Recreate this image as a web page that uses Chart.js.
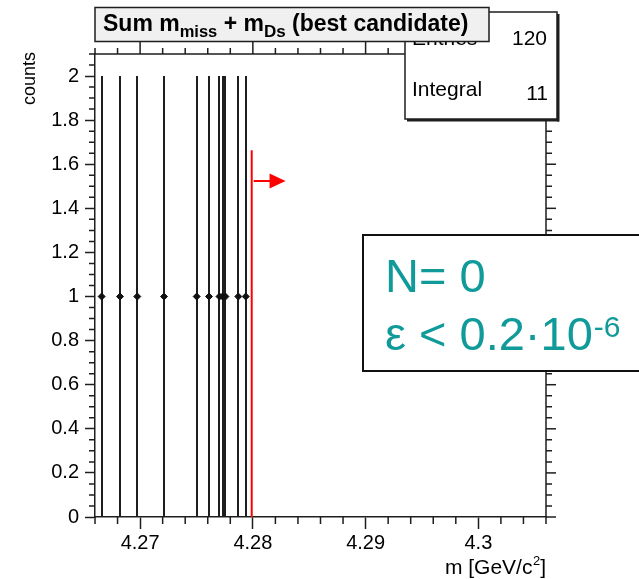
<!DOCTYPE html>
<html><head><meta charset="utf-8">
<script src="https://cdn.jsdelivr.net/npm/chart.js@4.4.1/dist/chart.umd.min.js"></script>
<style>html,body{margin:0;padding:0;background:#fff;}canvas{display:block;}</style>
</head><body>
<canvas id="c" width="639" height="579"></canvas>
<script>
// ---- data ----
const massValues  = [4.26659, 4.26822, 4.26975, 4.27212, 4.27502, 4.27611, 4.27704, 4.27731, 4.27757, 4.27871, 4.27937];
const countValues = [1, 1, 1, 1, 1, 1, 1, 1, 1, 1, 1];
const countErrors = [1, 1, 1, 1, 1, 1, 1, 1, 1, 1, 1];
const xTickValues = [4.27, 4.28, 4.29, 4.30];
const xTickLabels = ['4.27', '4.28', '4.29', '4.3'];
const yTickValues = [0, 0.2, 0.4, 0.6, 0.8, 1.0, 1.2, 1.4, 1.6, 1.8, 2.0];
const yTickLabels = ['0', '0.2', '0.4', '0.6', '0.8', '1', '1.2', '1.4', '1.6', '1.8', '2'];
const xRange = [4.266, 4.306];
const yRange = [0, 2.1];
const cutPosition = [4.2799];
const cutLineTop = [1.664];
const arrowLevel = [1.524];
const arrowTip = [4.2829];
const statsNames = ['Entries', 'Integral'];
const statsValues = ['120', '11'];
const xTitle = 'm [GeV/c';
const yTitle = 'counts';
const resultLines = ['N= 0', 'ε < 0.2·10', '-6'];

const FONT = "'Liberation Sans', Arial, Helvetica, sans-serif";
Chart.defaults.font.family = FONT;
const INK = '#1e1e1e';
const TEAL = '#109a9a';

const decor = {
  id: 'decor',
  beforeDatasetsDraw(chart) {
    const {ctx, scales: {x, y}} = chart;
    ctx.save();
    ctx.strokeStyle = INK; ctx.lineWidth = 2;
    massValues.forEach((m, i) => {
      const px = Math.round(x.getPixelForValue(m));
      ctx.beginPath();
      ctx.moveTo(px, y.getPixelForValue(countValues[i] - countErrors[i]));
      ctx.lineTo(px, y.getPixelForValue(countValues[i] + countErrors[i]));
      ctx.stroke();
    });
    ctx.restore();
  },
  afterDraw(chart) {
    const {ctx, chartArea: a, scales: {x, y}} = chart;
    ctx.save();
    // frame top / right
    ctx.strokeStyle = INK; ctx.lineWidth = 1.5;
    ctx.beginPath();
    ctx.moveTo(a.left, a.top); ctx.lineTo(a.right, a.top); ctx.lineTo(a.right, a.bottom);
    ctx.stroke();
    // ticks
    ctx.lineWidth = 1.5;
    const isMajorX = v => xTickValues.some(t => Math.abs(t - v) < 1e-7);
    const isMajorY = v => yTickValues.some(t => Math.abs(t - v) < 1e-7);
    for (let k = 0; ; k++) {
      const v = xRange[0] + k * 0.002;
      if (v > xRange[1] + 1e-9) break;
      const px = x.getPixelForValue(v);
      const maj = isMajorX(v);
      ctx.beginPath();
      ctx.moveTo(px, a.top); ctx.lineTo(px, a.top - (maj ? 12 : 6));
      if (!maj) { ctx.moveTo(px, a.bottom); ctx.lineTo(px, a.bottom + 7); }
      ctx.stroke();
    }
    for (let k = 0; ; k++) {
      const v = yRange[0] + k * 0.05;
      if (v > yRange[1] + 1e-9) break;
      const py = y.getPixelForValue(v);
      const maj = isMajorY(v);
      ctx.beginPath();
      ctx.moveTo(a.right, py); ctx.lineTo(a.right + (maj ? 10 : 6), py);
      if (!maj) { ctx.moveTo(a.left, py); ctx.lineTo(a.left - 6, py); }
      ctx.stroke();
    }
    // arrow
    const ay = y.getPixelForValue(arrowLevel[0]);
    const ax0 = x.getPixelForValue(cutPosition[0]) + 2;
    const ax1 = x.getPixelForValue(arrowTip[0]);
    ctx.strokeStyle = '#ff0000'; ctx.fillStyle = '#ff0000'; ctx.lineWidth = 2;
    ctx.beginPath(); ctx.moveTo(ax0, ay); ctx.lineTo(ax1 - 14, ay); ctx.stroke();
    ctx.beginPath(); ctx.moveTo(ax1 - 16, ay - 7.5); ctx.lineTo(ax1, ay); ctx.lineTo(ax1 - 16, ay + 7.5); ctx.closePath(); ctx.fill();

    // axis titles
    ctx.fillStyle = '#000';
    ctx.font = '21px ' + FONT;
    ctx.textBaseline = 'alphabetic';
    ctx.textAlign = 'right';
    ctx.fillText(']', a.right, 574);
    const bw = ctx.measureText(']').width;
    ctx.font = '13px ' + FONT;
    ctx.fillText('2', a.right - bw, 565);
    const sw = ctx.measureText('2').width;
    ctx.font = '21px ' + FONT;
    ctx.fillText(xTitle, a.right - bw - sw - 0.5, 574);

    ctx.save();
    ctx.font = '18px ' + FONT;
    ctx.translate(30, 52); ctx.rotate(-Math.PI / 2);
    ctx.textAlign = 'right'; ctx.textBaseline = 'middle';
    ctx.fillText(yTitle, 0, 0);
    ctx.restore();

    // stats box
    ctx.fillStyle = '#fff';
    ctx.fillRect(405, 12, 152, 107);
    ctx.fillStyle = INK;
    ctx.fillRect(557, 14, 2.5, 107.5);
    ctx.fillRect(407, 119, 152, 2.5);
    ctx.strokeStyle = INK; ctx.lineWidth = 1.5;
    ctx.strokeRect(405, 12, 152, 107);
    ctx.fillStyle = '#000';
    ctx.font = '21px ' + FONT;
    ctx.textAlign = 'left';
    ctx.fillText(statsNames[0], 412, 45);
    ctx.fillText(statsNames[1], 412, 96);
    ctx.textAlign = 'right';
    ctx.fillText(statsValues[0], 547, 45);
    ctx.fillText(statsValues[1], 548, 100);

    // title box
    ctx.fillStyle = '#f0f0f0';
    ctx.fillRect(95, 7.5, 394, 34);
    ctx.strokeStyle = INK; ctx.lineWidth = 1.5;
    ctx.strokeRect(95, 7.5, 394, 34);
    ctx.fillStyle = '#000';
    ctx.textAlign = 'left';
    const parts = [
      ['Sum m', 23, 31], ['miss', 16.5, 37], [' + m', 23, 31], ['Ds', 17, 37], [' (best candidate)', 23, 31]
    ];
    let tx = 103;
    parts.forEach(([t, s, b]) => {
      ctx.font = 'bold ' + s + 'px ' + FONT;
      ctx.fillText(t, tx, b);
      tx += ctx.measureText(t).width;
    });

    // result box
    ctx.fillStyle = '#fff';
    ctx.fillRect(363, 235, 290, 136);
    ctx.strokeStyle = '#111'; ctx.lineWidth = 2;
    ctx.strokeRect(363, 235, 290, 136);
    ctx.fillStyle = TEAL;
    ctx.font = '47px ' + FONT;
    ctx.fillText(resultLines[0], 385, 292);
    ctx.fillText(resultLines[1], 385, 350);
    const ew = ctx.measureText(resultLines[1]).width;
    ctx.font = '30px ' + FONT;
    ctx.fillText(resultLines[2], 385 + ew + 1, 337);
    ctx.restore();
  }
};

new Chart(document.getElementById('c'), {
  type: 'scatter',
  data: {
    datasets: [
      {
        label: 'counts',
        data: massValues.map((m, i) => ({x: m, y: countValues[i]})),
        pointStyle: 'rectRot', pointRadius: 3.5,
        backgroundColor: '#111', borderColor: '#111', borderWidth: 1
      },
      {
        type: 'line', label: 'cut',
        data: [{x: cutPosition[0], y: yRange[0]}, {x: cutPosition[0], y: cutLineTop[0]}],
        borderColor: '#ff0000', borderWidth: 2, pointRadius: 0, showLine: true, fill: false
      }
    ]
  },
  options: {
    responsive: false, animation: false, devicePixelRatio: 1,
    layout: {padding: {top: 54, right: 93, left: 0, bottom: 0}},
    plugins: {legend: {display: false}, tooltip: {enabled: false}, title: {display: false}},
    scales: {
      x: {
        type: 'linear', min: xRange[0], max: xRange[1],
        afterBuildTicks: s => { s.ticks = xTickValues.map(v => ({value: v})); },
        afterFit: s => { s.height = 62; },
        ticks: {callback: (v, i) => xTickLabels[i], font: {size: 20}, color: '#000', padding: 2, maxRotation: 0, minRotation: 0, autoSkip: false},
        grid: {drawOnChartArea: false, tickLength: 12, tickColor: INK, tickWidth: 1.5},
        border: {color: INK, width: 1.5}
      },
      y: {
        type: 'linear', min: yRange[0], max: yRange[1],
        afterBuildTicks: s => { s.ticks = yTickValues.map(v => ({value: v})); },
        afterFit: s => { s.width = 95; },
        ticks: {callback: (v, i) => yTickLabels[i], font: {size: 20}, color: '#000', padding: 6, autoSkip: false},
        grid: {drawOnChartArea: false, tickLength: 10, tickColor: INK, tickWidth: 1.5},
        border: {color: INK, width: 1.5}
      }
    }
  },
  plugins: [decor]
});
</script>
</body></html>
